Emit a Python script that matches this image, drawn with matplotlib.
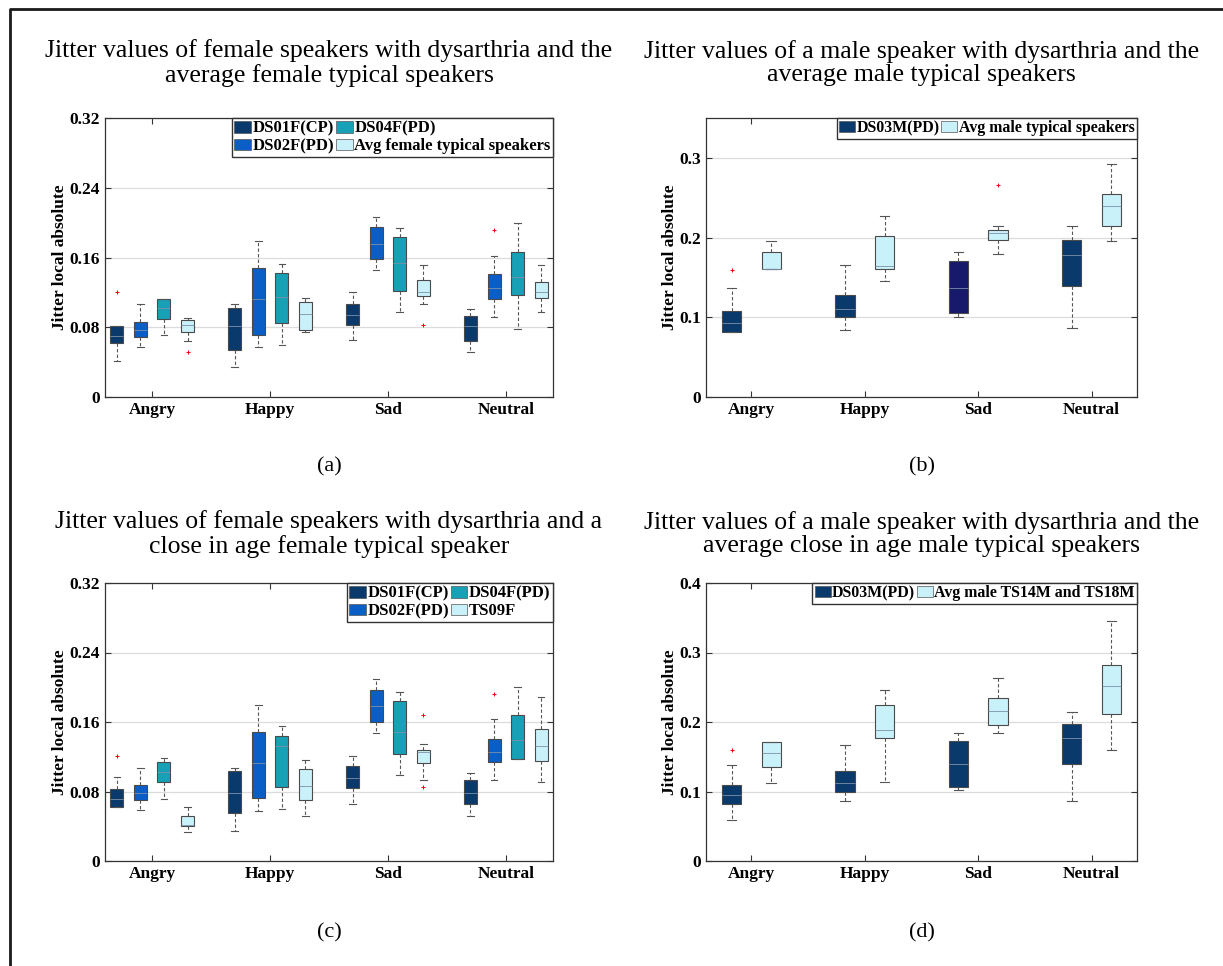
import matplotlib
matplotlib.use('Agg')
import matplotlib.pyplot as plt
from matplotlib.patches import Patch
from matplotlib.lines import Line2D

plt.rcParams['font.family'] = ['Liberation Serif', 'DejaVu Serif']

EMOTIONS = ['Angry', 'Happy', 'Sad', 'Neutral']

# (a) female speakers vs average female typical speakers
A_LABELS = ['DS01F(CP)', 'DS02F(PD)', 'DS04F(PD)', 'Avg female typical speakers']
A_Q1 = [[0.062, 0.054, 0.083, 0.064], [0.069, 0.071, 0.158, 0.112],
        [0.089, 0.085, 0.122, 0.117], [0.075, 0.077, 0.116, 0.113]]
A_Q3 = [[0.082, 0.102, 0.107, 0.093], [0.086, 0.148, 0.195, 0.141],
        [0.112, 0.142, 0.184, 0.166], [0.088, 0.109, 0.134, 0.132]]
A_MED = [[0.070, 0.081, 0.094, 0.081], [0.077, 0.112, 0.175, 0.125],
         [0.102, 0.115, 0.154, 0.138], [0.083, 0.095, 0.121, 0.121]]
A_LO = [[0.041, 0.034, 0.065, 0.052], [0.057, 0.057, 0.146, 0.092],
        [0.071, 0.060, 0.098, 0.078], [0.064, 0.075, 0.107, 0.097]]
A_HI = [[0.082, 0.107, 0.120, 0.101], [0.107, 0.179, 0.207, 0.162],
        [0.112, 0.153, 0.194, 0.199], [0.091, 0.113, 0.151, 0.151]]
A_OUT = [[[0.120], [], [], []], [[], [], [], [0.191]],
         [[], [], [], []], [[0.052], [], [0.083], []]]

# (b) male speaker vs average male typical speakers
B_LABELS = ['DS03M(PD)', 'Avg male typical speakers']
B_Q1 = [[0.082, 0.100, 0.106, 0.139], [0.160, 0.160, 0.197, 0.215]]
B_Q3 = [[0.108, 0.128, 0.170, 0.197], [0.182, 0.202, 0.209, 0.255]]
B_MED = [[0.093, 0.110, 0.137, 0.178], [0.161, 0.164, 0.206, 0.240]]
B_LO = [[0.082, 0.084, 0.100, 0.086], [0.160, 0.145, 0.179, 0.196]]
B_HI = [[0.137, 0.166, 0.182, 0.215], [0.196, 0.227, 0.214, 0.292]]
B_OUT = [[[0.159], [], [], []], [[], [], [0.266], []]]

# (c) female speakers vs close in age female typical speaker
C_LABELS = ['DS01F(CP)', 'DS02F(PD)', 'DS04F(PD)', 'TS09F']
C_Q1 = [[0.062, 0.055, 0.084, 0.066], [0.070, 0.072, 0.160, 0.114],
        [0.091, 0.085, 0.123, 0.117], [0.040, 0.070, 0.113, 0.115]]
C_Q3 = [[0.083, 0.104, 0.109, 0.093], [0.087, 0.149, 0.197, 0.141],
        [0.114, 0.144, 0.184, 0.168], [0.052, 0.106, 0.128, 0.152]]
C_MED = [[0.071, 0.078, 0.095, 0.078], [0.078, 0.113, 0.178, 0.126],
         [0.103, 0.132, 0.149, 0.139], [0.041, 0.086, 0.126, 0.132]]
C_LO = [[0.062, 0.034, 0.066, 0.052], [0.059, 0.058, 0.147, 0.093],
        [0.071, 0.060, 0.099, 0.117], [0.033, 0.052, 0.093, 0.091]]
C_HI = [[0.097, 0.107, 0.121, 0.101], [0.107, 0.179, 0.209, 0.164],
        [0.118, 0.155, 0.194, 0.200], [0.062, 0.116, 0.135, 0.189]]
C_OUT = [[[0.121], [], [], []], [[], [], [], [0.192]],
         [[], [], [], []], [[], [], [0.168, 0.085], []]]

# (d) male speaker vs average of TS14M and TS18M
D_LABELS = ['DS03M(PD)', 'Avg male TS14M and TS18M']
D_Q1 = [[0.082, 0.100, 0.107, 0.140], [0.135, 0.177, 0.195, 0.212]]
D_Q3 = [[0.109, 0.129, 0.172, 0.197], [0.171, 0.225, 0.235, 0.282]]
D_MED = [[0.095, 0.112, 0.139, 0.177], [0.155, 0.188, 0.216, 0.252]]
D_LO = [[0.059, 0.086, 0.102, 0.087], [0.112, 0.114, 0.184, 0.160]]
D_HI = [[0.138, 0.167, 0.184, 0.215], [0.171, 0.246, 0.264, 0.346]]
D_OUT = [[[0.160], [], [], []], [[], [], [], []]]

NAVY = '#0a3a6c'
BLUE = '#0a5ec6'
TEAL = '#17a0b6'
ICE = '#c9f1fa'
MIDNIGHT = '#17196b'

FEMALE_COLORS = [NAVY, BLUE, TEAL, ICE]
MALE_COLORS = [NAVY, ICE]

W, H = 1223, 966
fig = plt.figure(figsize=(W / 100, H / 100), dpi=100)


def px_axes(left, top, right, bottom):
    return fig.add_axes([left / W, 1 - bottom / H, (right - left) / W, (bottom - top) / H])


def draw_panel(ax, q1, q3, med, lo, hi, out, labels, colors, offsets, width,
               ymax, yticks, title, tag, box_colors=None, legend_size=12):
    for s in range(len(q1)):
        stats = []
        for e in range(4):
            stats.append(dict(med=med[s][e], q1=q1[s][e], q3=q3[s][e],
                              whislo=lo[s][e], whishi=hi[s][e], fliers=out[s][e]))
        pos = [e + 1 + offsets[s] for e in range(4)]
        parts = ax.bxp(stats, positions=pos, widths=width, capwidths=width * 0.5,
                       patch_artist=True, manage_ticks=False, zorder=3,
                       boxprops=dict(edgecolor='#4a4a4a', linewidth=0.8),
                       whiskerprops=dict(color='#555555', linestyle=(0, (3, 2)), linewidth=0.8),
                       capprops=dict(color='#555555', linewidth=0.8),
                       medianprops=dict(color='#7d90a8', linewidth=0.6),
                       flierprops=dict(marker='+', markeredgecolor='red',
                                       markersize=3.5, markeredgewidth=0.7, linestyle='none'))
        for e, box in enumerate(parts['boxes']):
            fc = box_colors[s][e] if box_colors else colors[s]
            box.set_facecolor(fc)

    ax.set_xlim(0.6, 4.4)
    ax.set_ylim(0, ymax)
    ax.set_xticks([1, 2, 3, 4])
    ax.set_xticklabels(EMOTIONS, fontweight='bold', fontsize=12.5)
    ax.set_yticks(yticks)
    ax.set_yticklabels([f'{t:g}' for t in yticks], fontweight='bold', fontsize=12.5)
    ax.tick_params(direction='in', top=True, right=True, length=4, width=0.8, color='#333333')
    ax.grid(axis='y', color='#dcdcdc', linewidth=0.9, zorder=0)
    ax.set_axisbelow(True)
    for sp in ax.spines.values():
        sp.set_color('#333333')
        sp.set_linewidth(0.9)
    ax.set_ylabel('Jitter local absolute', fontweight='bold', fontsize=12.5, labelpad=1)

    handles = [Patch(facecolor=c, edgecolor='#555555', linewidth=0.5) for c in colors]
    ax.legend(handles, labels, loc='upper right', ncol=2, frameon=True, fancybox=False,
              edgecolor='#333333', framealpha=1, borderaxespad=0, borderpad=0.15,
              handlelength=1.0, handleheight=0.7, handletextpad=0.1,
              columnspacing=0.1, labelspacing=0.1,
              prop=dict(weight='bold', size=legend_size))

    bb = ax.get_position()
    cx = (bb.x0 + bb.x1) / 2
    fig.text(cx, title[1], title[0], ha='center', va='center', fontsize=18.5,
             linespacing=1.1)
    fig.text(cx, tag[1], tag[0], ha='center', va='center', fontsize=16)


ax_a = px_axes(105, 118, 553, 397)
draw_panel(ax_a, A_Q1, A_Q3, A_MED, A_LO, A_HI, A_OUT, A_LABELS, FEMALE_COLORS,
           [-0.3, -0.1, 0.1, 0.3], 0.11, 0.32, [0, 0.08, 0.16, 0.24, 0.32],
           ('Jitter values of female speakers with dysarthria and the\n'
            'average female typical speakers', 1 - 63 / H), ('(a)', 1 - 467 / H))

ax_b = px_axes(706, 118, 1137, 397)
draw_panel(ax_b, B_Q1, B_Q3, B_MED, B_LO, B_HI, B_OUT, B_LABELS, MALE_COLORS,
           [-0.175, 0.175], 0.17, 0.35, [0, 0.1, 0.2, 0.3],
           ('Jitter values of a male speaker with dysarthria and the\n'
            'average male typical speakers', 1 - 63 / H), ('(b)', 1 - 467 / H),
           box_colors=[[NAVY, NAVY, MIDNIGHT, NAVY], [ICE] * 4], legend_size=11.4)

ax_c = px_axes(105, 583, 553, 861)
draw_panel(ax_c, C_Q1, C_Q3, C_MED, C_LO, C_HI, C_OUT, C_LABELS, FEMALE_COLORS,
           [-0.3, -0.1, 0.1, 0.3], 0.11, 0.32, [0, 0.08, 0.16, 0.24, 0.32],
           ('Jitter values of female speakers with dysarthria and a\n'
            'close in age female typical speaker', 1 - 534 / H), ('(c)', 1 - 933 / H))

ax_d = px_axes(706, 583, 1137, 861)
draw_panel(ax_d, D_Q1, D_Q3, D_MED, D_LO, D_HI, D_OUT, D_LABELS, MALE_COLORS,
           [-0.175, 0.175], 0.17, 0.4, [0, 0.1, 0.2, 0.3, 0.4],
           ('Jitter values of a male speaker with dysarthria and the\n'
            'average close in age male typical speakers', 1 - 534 / H), ('(d)', 1 - 933 / H),
           legend_size=11.4)

# frame around the whole figure
fig.add_artist(Line2D([10 / W, 10 / W, 1.0], [0.0, 1 - 9 / H, 1 - 9 / H],
                      transform=fig.transFigure, color='#1a1a1a', linewidth=2))

fig.savefig('out.png', dpi=100)
